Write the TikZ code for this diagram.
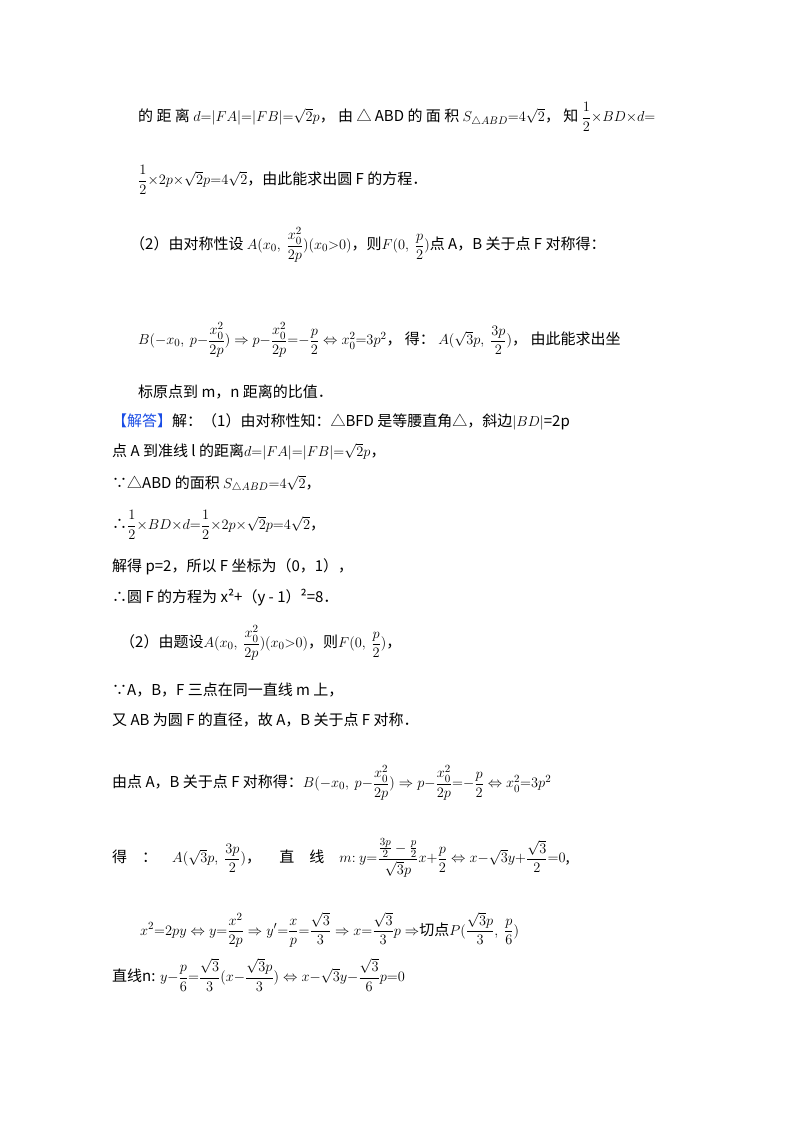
\documentclass[tikz,border=0pt]{standalone}
\usepackage{amsmath,amssymb}
\usepackage{fontspec}
\setmainfont{Noto Sans CJK SC}
\begin{document}
\begin{tikzpicture}[x=1pt,y=1pt,every node/.style={anchor=west,inner sep=0pt,font=\fontsize{15}{18}\selectfont}]
\useasboundingbox (0,0) rectangle (800,-1132);
\node (l1) at (138,-117) {的 距 离 $d{=}|FA|{=}|FB|{=}\sqrt{2}p$， 由 △ ABD 的 面 积 $S_{\triangle ABD}{=}4\sqrt{2}$， 知 $\dfrac12{\times}BD{\times}d{=}$};
\node (l2) at (138,-180) {$\dfrac12{\times}2p{\times}\sqrt{2}p{=}4\sqrt{2}$，由此能求出圆 F 的方程．};
\node (l3) at (130,-245) {（2）由对称性设 $A(x_0,\ \dfrac{x_0^2}{2p})(x_0{>}0)$，则$F(0,\ \dfrac{p}{2})$点 A，B 关于点 F 对称得：};
\node (l4) at (138,-340) {$B(-x_0,\ p{-}\dfrac{x_0^2}{2p})\Rightarrow p{-}\dfrac{x_0^2}{2p}{=}{-}\dfrac{p}{2}\Leftrightarrow x_0^2{=}3p^2$， 得： $A(\sqrt3p,\ \dfrac{3p}{2})$， 由此能求出坐};
\node (l5) at (138,-392) {标原点到 m，n 距离的比值．};
\node (l6) at (112,-422) {\textcolor[rgb]{0.1,0.3,0.9}{【解答】}解：（1）由对称性知：△BFD 是等腰直角△，斜边$|BD|$=2p};
\node (l7) at (112,-452) {点 A 到准线 l 的距离$d{=}|FA|{=}|FB|{=}\sqrt2p$，};
\node (l8) at (112,-484) {∵△ABD 的面积 $S_{\triangle ABD}{=}4\sqrt2$，};
\node (l9) at (112,-525) {∴$\dfrac12{\times}BD{\times}d{=}\dfrac12{\times}2p{\times}\sqrt2p{=}4\sqrt2$，};
\node (l10) at (112,-567) {解得 p=2，所以 F 坐标为（0，1），};
\node (l11) at (112,-598) {∴圆 F 的方程为 x²+（y - 1）²=8．};
\node (l12) at (120,-643) {（2）由题设$A(x_0,\ \dfrac{x_0^2}{2p})(x_0{>}0)$，则$F(0,\ \dfrac{p}{2})$，};
\node (l13) at (112,-690) {∵A，B，F 三点在同一直线 m 上，};
\node (l14) at (112,-720) {又 AB 为圆 F 的直径，故 A，B 关于点 F 对称．};
\node (l15) at (112,-783) {由点 A，B 关于点 F 对称得：$B(-x_0,\ p{-}\dfrac{x_0^2}{2p})\Rightarrow p{-}\dfrac{x_0^2}{2p}{=}{-}\dfrac{p}{2}\Leftrightarrow x_0^2{=}3p^2$};
\node (l16) at (112,-858) {得\quad ：\quad $A(\sqrt3p,\ \dfrac{3p}{2})$，\quad\ 直\quad 线\quad $m{:}\ y{=}\dfrac{\frac{3p}{2}-\frac{p}{2}}{\sqrt3p}x{+}\dfrac{p}{2}\Leftrightarrow x{-}\sqrt3y{+}\dfrac{\sqrt3}{2}{=}0$,};
\node (l17) at (140,-930) {$x^2{=}2py\Leftrightarrow y{=}\dfrac{x^2}{2p}\Rightarrow y'{=}\dfrac{x}{p}{=}\dfrac{\sqrt3}{3}\Rightarrow x{=}\dfrac{\sqrt3}{3}p\Rightarrow$切点$P(\dfrac{\sqrt3p}{3},\ \dfrac{p}{6})$};
\node (l18) at (112,-975) {直线n: $y{-}\dfrac{p}{6}{=}\dfrac{\sqrt3}{3}(x{-}\dfrac{\sqrt3p}{3})\Leftrightarrow x{-}\sqrt3y{-}\dfrac{\sqrt3}{6}p{=}0$};
\end{tikzpicture}
\end{document}
